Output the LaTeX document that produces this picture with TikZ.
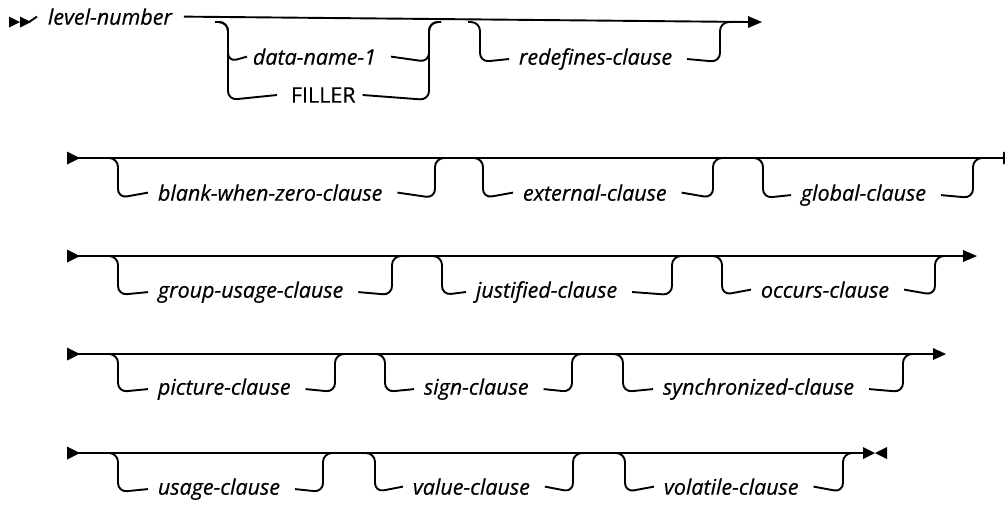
\documentclass[tikz,border=0pt]{standalone}
\usepackage{fontspec}
\setmainfont{Open Sans}[ItalicFeatures={FakeBold=0.5},UprightFeatures={FakeBold=0.5}]
\begin{document}
\begin{tikzpicture}[x=1pt,y=-1pt,line width=1.9pt,
  rc/.style={rounded corners=9pt},
  lbl/.style={font=\fontsize{21.5}{24}\selectfont\itshape,inner sep=0pt,anchor=mid west},
  kw/.style={font=\fontsize{21.5}{24}\selectfont,inner sep=0pt,anchor=mid west},
  tipfill/.style={fill=black,draw=none}]
\clip (0,0) rectangle (1005,504);
\newcommand\OptBr[7]{%
  \node[lbl] (#1) at (#5,#3) {#7};
  \draw[rc] (#4-12,#2) -- (#4,#2) -- (#4,#3) -- ([xshift=-9pt]#1.west);
  \draw[rc] ([xshift=14pt]#1.east) -- (#6,#3) -- (#6,#2) -- (#6+12,#2);
}
% ---------------- row 1
\fill[tipfill] (9,16.5) -- (20,22) -- (9,27.5) -- cycle;
\fill[tipfill] (20,16.5) -- (31,22) -- (20,27.5) -- cycle;
\coordinate (s1) at (29,22);
\node[lbl] (lvl) at (47,22) {level-number};
\draw (s1) -- ([xshift=-10pt]lvl.west);
\coordinate (e1) at (749,22);
\draw ([xshift=11pt]lvl.east) -- (e1);
\fill[tipfill] (748,16) -- (762,22) -- (748,28) -- cycle;
\node[lbl] (dn) at (252,62) {data-name-1};
\node[kw] (fil) at (290,100) {FILLER};
\draw[rc] (215,22) -- (228,22) -- (228,62) -- ([xshift=-5pt]dn.west);
\draw[rc] (215,22) -- (228,22) -- (228,100) -- ([xshift=-13pt]fil.west);
\draw[rc] ([xshift=14pt]dn.east) -- (429,62) -- (429,22) -- (441,22);
\draw[rc] ([xshift=6pt]fil.east) -- (429,100) -- (429,22) -- (441,22);
\OptBr{redef}{22}{62}{480}{518}{720}{redefines-clause}
% ---------------- row 2
\fill[tipfill] (67,151.5) -- (80,158) -- (67,164.5) -- cycle;
\coordinate (s2) at (78,158);
\coordinate (e2) at (1004,158);
\draw (s2) -- (e2);
\fill[tipfill] (1003,151.5) -- (1016,158) -- (1003,164.5) -- cycle;
\OptBr{bwz}{158}{198}{118}{157}{435}{blank-when-zero-clause}
\OptBr{ext}{158}{198}{483}{522}{713}{external-clause}
\OptBr{glob}{158}{198}{763}{800}{973}{global-clause}
% ---------------- row 3
\fill[tipfill] (67,249.5) -- (80,256) -- (67,262.5) -- cycle;
\coordinate (s3) at (78,256);
\coordinate (e3) at (964,256);
\draw (s3) -- (e3);
\fill[tipfill] (963,250) -- (977,256) -- (963,262) -- cycle;
\OptBr{grp}{256}{295}{118}{157}{392}{group-usage-clause}
\OptBr{just}{256}{295}{442}{475}{672}{justified-clause}
\OptBr{occ}{256}{295}{722}{760}{935}{occurs-clause}
% ---------------- row 4
\fill[tipfill] (67,347.5) -- (80,354) -- (67,360.5) -- cycle;
\coordinate (s4) at (78,354);
\coordinate (e4) at (934,354);
\draw (s4) -- (e4);
\fill[tipfill] (933,348) -- (946,354) -- (933,360) -- cycle;
\OptBr{pic}{354}{392}{118}{157}{335}{picture-clause}
\OptBr{sign}{354}{392}{385}{423}{572}{sign-clause}
\OptBr{sync}{354}{392}{623}{662}{903}{synchronized-clause}
% ---------------- row 5
\fill[tipfill] (67,446.5) -- (80,453) -- (67,459.5) -- cycle;
\coordinate (s5) at (78,453);
\coordinate (e5) at (864,453);
\draw (s5) -- (e5);
\fill[tipfill] (863,447) -- (875,453) -- (863,459) -- cycle;
\fill[tipfill] (887,447) -- (875,453) -- (887,459) -- cycle;
\OptBr{usg}{453}{492}{118}{157}{323}{usage-clause}
\OptBr{val}{453}{492}{375}{412}{573}{value-clause}
\OptBr{vol}{453}{492}{625}{663}{843}{volatile-clause}
\end{tikzpicture}
\end{document}
